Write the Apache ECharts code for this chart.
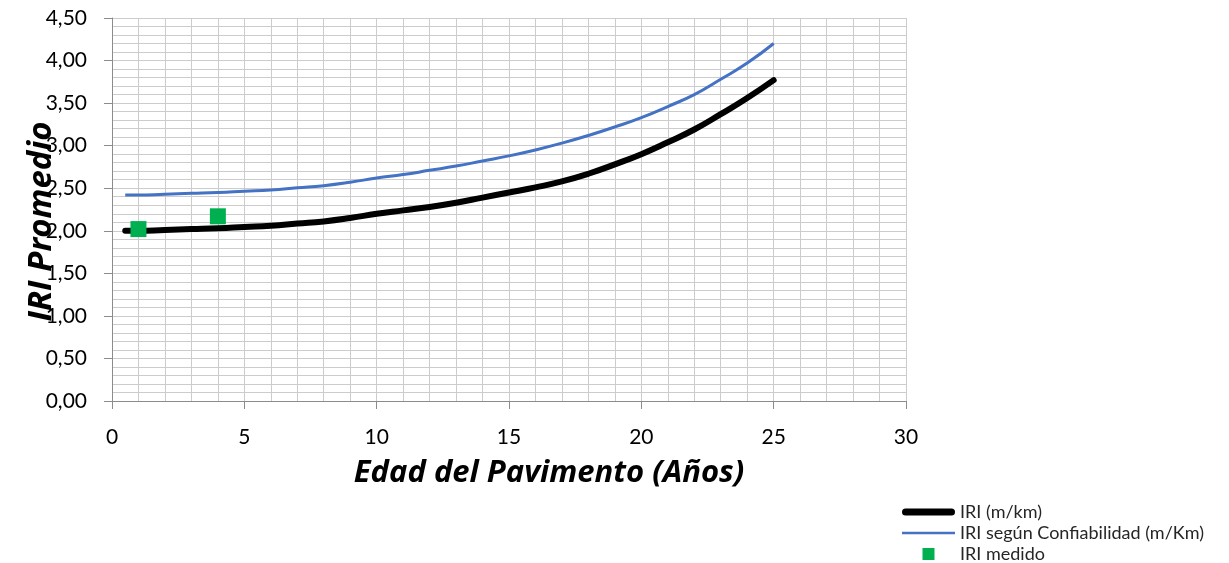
<!DOCTYPE html>
<html>
<head>
<meta charset="utf-8">
<script src="https://cdn.jsdelivr.net/npm/echarts@6/dist/echarts.min.js"></script>
<style>
  html, body { margin: 0; padding: 0; background: #ffffff; }
  #chart { width: 1229px; height: 563px; }
</style>
</head>
<body>
<div id="chart"></div>
<script>
// Edad del pavimento (años)
const edad = [0.5, 1, 2, 3, 4, 5, 6, 7, 8, 9, 10, 11, 12, 13, 14, 15, 16, 17, 18, 19, 20, 21, 22, 23, 24, 25];
// IRI proyectado (m/km)
const iri = [2.00, 2.00, 2.01, 2.02, 2.03, 2.045, 2.06, 2.085, 2.11, 2.15, 2.20, 2.24, 2.28, 2.33, 2.39, 2.45, 2.51, 2.58, 2.67, 2.78, 2.90, 3.04, 3.19, 3.37, 3.56, 3.77];
// IRI según confiabilidad (m/Km)
const iriConfiabilidad = [2.42, 2.42, 2.43, 2.44, 2.45, 2.465, 2.48, 2.505, 2.53, 2.57, 2.62, 2.66, 2.71, 2.76, 2.82, 2.88, 2.95, 3.03, 3.12, 3.22, 3.33, 3.46, 3.60, 3.78, 3.97, 4.20];
// IRI medido en campo
const edadMedido = [1, 4];
const iriMedido = [2.02, 2.17];

const nombres = ['IRI (m/km)', 'IRI según Confiabilidad (m/Km)', 'IRI medido'];

const pares = (xs, ys) => xs.map((x, i) => [x, ys[i]]);

const chart = echarts.init(document.getElementById('chart'), null, { renderer: 'canvas' });

const gridColor = '#cccccc';
const axisColor = '#8c8c8c';
const labelFont = 'Lato, "Open Sans", sans-serif';
const titleBase = {
  fontFamily: '"Open Sans", sans-serif',
  fontWeight: 'bold',
  fontStyle: 'italic',
  color: '#000000'
};

chart.setOption({
  backgroundColor: '#ffffff',
  animation: false,
  grid: { left: 112, right: 323, top: 18, bottom: 162, containLabel: false, outerBoundsMode: 'none' },
  legend: {
    orient: 'vertical',
    left: 897,
    top: 498,
    height: 120,
    itemWidth: 53,
    itemHeight: 12,
    itemGap: 3,
    symbolKeepAspect: true,
    data: [
      { name: nombres[0], icon: 'path://M3.5,0 L49.5,0 A3.5,3.5 0 0 1 49.5,7 L3.5,7 A3.5,3.5 0 0 1 3.5,0 Z' },
      { name: nombres[1], icon: 'path://M0,0 L53,0 L53,2.5 L0,2.5 Z' },
      { name: nombres[2], icon: 'path://M0,0 L10,0 L10,10 L0,10 Z' }
    ],
    textStyle: { fontFamily: labelFont, fontSize: 18, color: '#262626', lineHeight: 18 }
  },
  xAxis: {
    type: 'value',
    min: 0,
    max: 30,
    interval: 5,
    name: 'Edad del Pavimento (Años)',
    nameLocation: 'middle',
    nameGap: 57,
    nameMoveOverlap: false,
    nameTextStyle: Object.assign({ fontSize: 31, padding: [0, 0, 0, 80] }, titleBase),
    axisLine: { show: true, lineStyle: { color: axisColor, width: 1 } },
    axisTick: { show: true, length: 8, inside: false, lineStyle: { color: axisColor } },
    axisLabel: { fontFamily: labelFont, fontSize: 21, color: '#000000', margin: 26 },
    splitLine: { show: true, lineStyle: { color: gridColor, width: 1 } },
    minorTick: { show: false, splitNumber: 5 },
    minorSplitLine: { show: true, lineStyle: { color: gridColor, width: 1 } }
  },
  yAxis: {
    type: 'value',
    min: 0,
    max: 4.5,
    interval: 0.5,
    name: 'IRI Promedio',
    nameLocation: 'middle',
    nameGap: 54,
    nameMoveOverlap: false,
    nameRotate: 90,
    nameTextStyle: Object.assign({ fontSize: 33, padding: [0, 24, 0, 0] }, titleBase),
    axisLine: { show: true, lineStyle: { color: axisColor, width: 1 } },
    axisTick: { show: true, length: 8, inside: false, lineStyle: { color: axisColor } },
    axisLabel: {
      fontFamily: labelFont, fontSize: 21, color: '#000000', margin: 25,
      formatter: v => v.toFixed(2).replace('.', ',')
    },
    splitLine: { show: true, lineStyle: { color: gridColor, width: 1 } },
    minorTick: { show: false, splitNumber: 5 },
    minorSplitLine: { show: true, lineStyle: { color: gridColor, width: 1 } }
  },
  series: [
    {
      name: nombres[0],
      type: 'line',
      data: pares(edad, iri),
      smooth: true,
      showSymbol: false,
      symbol: 'none',
      lineStyle: { color: '#000000', width: 6, cap: 'round' },
      itemStyle: { color: '#000000' },
      z: 3
    },
    {
      name: nombres[1],
      type: 'line',
      data: pares(edad, iriConfiabilidad),
      smooth: true,
      showSymbol: false,
      symbol: 'none',
      lineStyle: { color: '#4472c4', width: 3 },
      itemStyle: { color: '#4472c4' },
      z: 2
    },
    {
      name: nombres[2],
      type: 'scatter',
      data: pares(edadMedido, iriMedido),
      symbol: 'rect',
      symbolSize: 16,
      itemStyle: { color: '#00b050', opacity: 1 },
      z: 4
    }
  ]
});
</script>
</body>
</html>
